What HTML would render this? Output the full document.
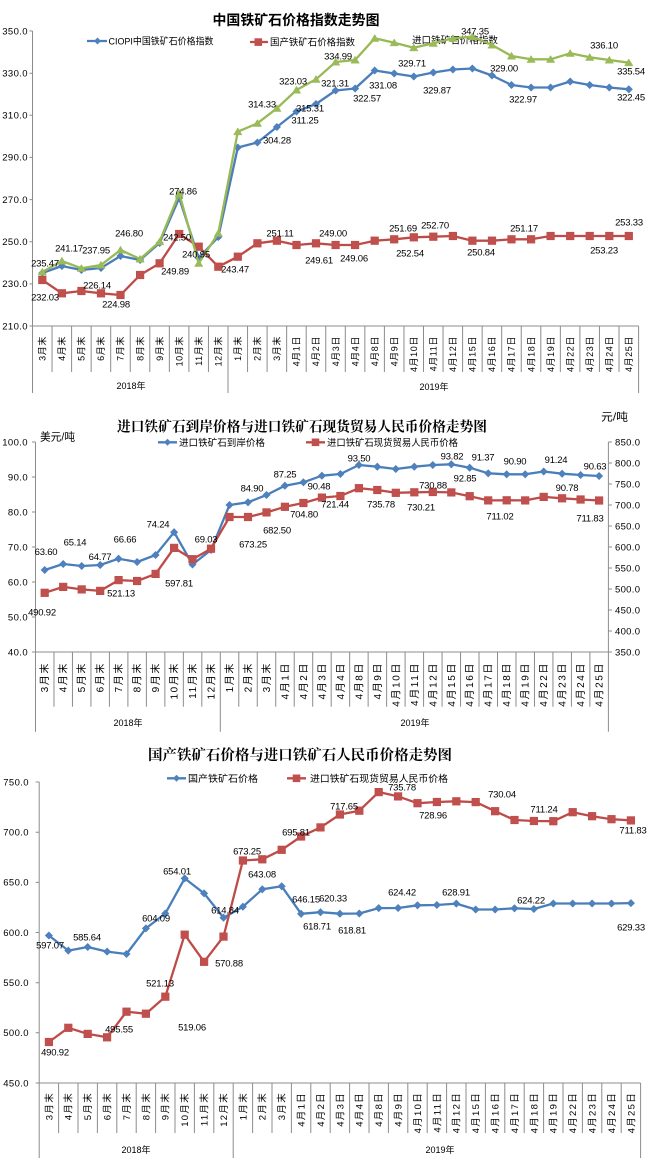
<!DOCTYPE html>
<html><head><meta charset="utf-8"><style>
html,body{margin:0;padding:0;background:#fff;}
svg{display:block;}
text{font-family:"Liberation Sans","Noto Sans CJK SC",sans-serif;fill:#000;}
.ax{stroke:#8c8c8c;stroke-width:1;fill:none;}
.yl{font-size:9.5px;text-anchor:end;letter-spacing:0.4px;}
.yr{font-size:9.5px;text-anchor:start;letter-spacing:0.3px;}
.dl{font-size:9.5px;text-anchor:middle;letter-spacing:-0.2px;}
.x1{font-size:9px;letter-spacing:0.6px;}
.x2{font-size:10px;letter-spacing:1.6px;}
.x3{font-size:9.5px;letter-spacing:1.3px;}
.yr2{font-size:9px;text-anchor:middle;}
.lg{font-size:9.5px;}
.bl{fill:none;stroke:#4A7EBB;stroke-width:2.3;stroke-linejoin:round;}
.rd{fill:none;stroke:#BE4B48;stroke-width:2.3;stroke-linejoin:round;}
.gr{fill:none;stroke:#98B954;stroke-width:2.3;stroke-linejoin:round;}
</style></head><body>
<svg width="650" height="1165" viewBox="0 0 650 1165" xmlns="http://www.w3.org/2000/svg">
<defs>
<marker id="mb" viewBox="-5 -5 10 10" markerWidth="10" markerHeight="10" refX="0" refY="0" markerUnits="userSpaceOnUse"><path d="M0,-3.6L3.6,0L0,3.6L-3.6,0Z" fill="#4F81BD" stroke="#4A7EBB" stroke-width="0.6"/></marker>
<marker id="mr" viewBox="-5 -5 10 10" markerWidth="10" markerHeight="10" refX="0" refY="0" markerUnits="userSpaceOnUse"><rect x="-3.8" y="-3.8" width="7.6" height="7.6" fill="#C0504D" stroke="#BE4B48" stroke-width="0.6"/></marker>
<marker id="mg" viewBox="-5 -5 10 10" markerWidth="10" markerHeight="10" refX="0" refY="0" markerUnits="userSpaceOnUse"><path d="M0,-3.8L4.2,3.2L-4.2,3.2Z" fill="#9BBB59" stroke="#98B954" stroke-width="0.5"/></marker>
</defs>
<rect width="650" height="1165" fill="#fff"/>

<!-- ================= CHART 1 ================= -->
<text x="296" y="25" text-anchor="middle" style="font-family:'Liberation Sans','Noto Sans CJK SC',sans-serif;font-weight:bold;font-size:14px" textLength="167" lengthAdjust="spacingAndGlyphs">中国铁矿石价格指数走势图</text>
<line x1="87" y1="41" x2="107" y2="41" stroke="#4A7EBB" stroke-width="2.3"/>
<path d="M97.5,37.5L101,41L97.5,44.5L94,41Z" fill="#4F81BD"/>
<text class="lg" x="108.5" y="44.5" textLength="105" lengthAdjust="spacingAndGlyphs">CIOPI中国铁矿石价格指数</text>
<line x1="250" y1="42" x2="268" y2="42" stroke="#BE4B48" stroke-width="2.3"/>
<rect x="254.5" y="38.3" width="7.6" height="7.6" fill="#C0504D"/>
<text class="lg" x="270" y="45.5" textLength="85" lengthAdjust="spacingAndGlyphs">国产铁矿石价格指数</text>
<text class="lg" x="412" y="43.5" textLength="86" lengthAdjust="spacingAndGlyphs">进口铁矿石价格指数</text>

<path class="ax" d="M32.5,31V393M29.5,31H32.5M29.5,73.2H32.5M29.5,115.3H32.5M29.5,157.4H32.5M29.5,199.6H32.5M29.5,241.7H32.5M29.5,283.9H32.5M29.5,326H638.6M638.6,326V393M228,326V393
M52.05,326V372M71.6,326V372M91.15,326V372M110.7,326V372M130.25,326V372M149.8,326V372M169.35,326V372M188.9,326V372M208.45,326V372M247.55,326V372M267.1,326V372M286.65,326V372M306.2,326V372M325.75,326V372M345.3,326V372M364.85,326V372M384.4,326V372M403.95,326V372M423.5,326V372M443.05,326V372M462.6,326V372M482.15,326V372M501.7,326V372M521.25,326V372M540.8,326V372M560.35,326V372M579.9,326V372M599.45,326V372M619,326V372"/>
<text class="yl" x="28" y="34.3">350.0</text>
<text class="yl" x="28" y="76.5">330.0</text>
<text class="yl" x="28" y="118.6">310.0</text>
<text class="yl" x="28" y="160.7">290.0</text>
<text class="yl" x="28" y="202.9">270.0</text>
<text class="yl" x="28" y="245">250.0</text>
<text class="yl" x="28" y="287.2">230.0</text>
<text class="yl" x="28" y="329.3">210.0</text>

<g class="x1" text-anchor="end">
<text transform="translate(42.3,336) rotate(-90)" dy="3.2">3月末</text>
<text transform="translate(61.9,336) rotate(-90)" dy="3.2">4月末</text>
<text transform="translate(81.4,336) rotate(-90)" dy="3.2">5月末</text>
<text transform="translate(101,336) rotate(-90)" dy="3.2">6月末</text>
<text transform="translate(120.5,336) rotate(-90)" dy="3.2">7月末</text>
<text transform="translate(140.1,336) rotate(-90)" dy="3.2">8月末</text>
<text transform="translate(159.6,336) rotate(-90)" dy="3.2">9月末</text>
<text transform="translate(179.2,336) rotate(-90)" dy="3.2">10月末</text>
<text transform="translate(198.7,336) rotate(-90)" dy="3.2">11月末</text>
<text transform="translate(218.3,336) rotate(-90)" dy="3.2">12月末</text>
<text transform="translate(237.8,336) rotate(-90)" dy="3.2">1月末</text>
<text transform="translate(257.4,336) rotate(-90)" dy="3.2">2月末</text>
<text transform="translate(276.9,336) rotate(-90)" dy="3.2">3月末</text>
<text transform="translate(296.5,336) rotate(-90)" dy="3.2">4月1日</text>
<text transform="translate(316,336) rotate(-90)" dy="3.2">4月2日</text>
<text transform="translate(335.6,336) rotate(-90)" dy="3.2">4月3日</text>
<text transform="translate(355.1,336) rotate(-90)" dy="3.2">4月4日</text>
<text transform="translate(374.7,336) rotate(-90)" dy="3.2">4月8日</text>
<text transform="translate(394.2,336) rotate(-90)" dy="3.2">4月9日</text>
<text transform="translate(413.8,336) rotate(-90)" dy="3.2">4月10日</text>
<text transform="translate(433.3,336) rotate(-90)" dy="3.2">4月11日</text>
<text transform="translate(452.9,336) rotate(-90)" dy="3.2">4月12日</text>
<text transform="translate(472.4,336) rotate(-90)" dy="3.2">4月15日</text>
<text transform="translate(492,336) rotate(-90)" dy="3.2">4月16日</text>
<text transform="translate(511.5,336) rotate(-90)" dy="3.2">4月17日</text>
<text transform="translate(531.1,336) rotate(-90)" dy="3.2">4月18日</text>
<text transform="translate(550.6,336) rotate(-90)" dy="3.2">4月19日</text>
<text transform="translate(570.2,336) rotate(-90)" dy="3.2">4月22日</text>
<text transform="translate(589.7,336) rotate(-90)" dy="3.2">4月23日</text>
<text transform="translate(609.3,336) rotate(-90)" dy="3.2">4月24日</text>
<text transform="translate(628.8,336) rotate(-90)" dy="3.2">4月25日</text>
</g>
<text class="yr2" x="131" y="389">2018年</text>
<text class="yr2" x="434" y="390">2019年</text>

<polyline class="bl" marker-start="url(#mb)" marker-mid="url(#mb)" marker-end="url(#mb)" points="42.3,273 61.9,266 81.4,270 101,268 120.5,256 140.1,260 159.6,243 179.2,198 198.7,258 218.3,237 237.8,147.5 257.4,142.5 276.9,127 296.5,111.5 316,104 335.6,90.5 355.1,88.5 374.7,70.5 394.2,73.5 413.8,76.5 433.3,72.5 452.9,69.5 472.4,68.5 492,75.5 511.5,85 531.1,87.5 550.6,87.5 570.2,81.5 589.7,85 609.3,87.5 628.8,89.3"/>
<polyline class="rd" marker-start="url(#mr)" marker-mid="url(#mr)" marker-end="url(#mr)" points="42.3,280 61.9,293.3 81.4,291 101,293.3 120.5,295 140.1,275 159.6,263.3 179.2,234 198.7,246.7 218.3,266.7 237.8,256.7 257.4,243.3 276.9,240.7 296.5,245 316,243.3 335.6,245 355.1,245 374.7,240.7 394.2,239.3 413.8,237.3 433.3,236.7 452.9,236 472.4,240.7 492,240.7 511.5,239.3 531.1,239.3 550.6,236 570.2,236 589.7,236 609.3,236 628.8,236"/>
<polyline class="gr" marker-start="url(#mg)" marker-mid="url(#mg)" marker-end="url(#mg)" points="42.3,272 61.9,261 81.4,268.3 101,265 120.5,250 140.1,259 159.6,241.7 179.2,193.3 198.7,263.3 218.3,233.3 237.8,131.7 257.4,123.3 276.9,108.3 296.5,90 316,79.3 335.6,62 355.1,60 374.7,38.3 394.2,42.7 413.8,47.7 433.3,43.3 452.9,38.3 472.4,36.7 492,45 511.5,56 531.1,59.3 550.6,59.3 570.2,53.3 589.7,57.3 609.3,60 628.8,62.7"/>

<g class="dl">
<text x="475" y="34.5">347.35</text>
<text x="338" y="59.5">334.99</text>
<text x="604" y="48.5">336.10</text>
<text x="412" y="66.5">329.71</text>
<text x="504" y="71.5">329.00</text>
<text x="631" y="74.5">335.54</text>
<text x="293" y="84.5">323.03</text>
<text x="335" y="86.5">321.31</text>
<text x="383" y="88.5">331.08</text>
<text x="437" y="93.5">329.87</text>
<text x="367" y="101.5">322.57</text>
<text x="523" y="102.5">322.97</text>
<text x="631" y="100.5">322.45</text>
<text x="262" y="107.5">314.33</text>
<text x="310" y="111.5">315.31</text>
<text x="305" y="123.5">311.25</text>
<text x="277" y="143.5">304.28</text>
<text x="183" y="194.5">274.86</text>
<text x="129" y="236.5">246.80</text>
<text x="177" y="240.5">242.50</text>
<text x="69" y="251.5">241.17</text>
<text x="96" y="253.5">237.95</text>
<text x="45" y="266.5">235.47</text>
<text x="196" y="257.5">240.95</text>
<text x="235" y="272.5">243.47</text>
<text x="175" y="274.5">249.89</text>
<text x="97" y="288.5">226.14</text>
<text x="45" y="300.5">232.03</text>
<text x="116" y="307.5">224.98</text>
<text x="280" y="236.5">251.11</text>
<text x="333" y="236.5">249.00</text>
<text x="403" y="231.5">251.69</text>
<text x="435" y="228.5">252.70</text>
<text x="524" y="231.5">251.17</text>
<text x="629" y="225.5">253.33</text>
<text x="319" y="263.5">249.61</text>
<text x="354" y="261.5">249.06</text>
<text x="410" y="256.5">252.54</text>
<text x="481" y="255.5">250.84</text>
<text x="604" y="253.5">253.23</text>
</g>

<!-- ================= CHART 2 ================= -->
<text x="302" y="431.5" text-anchor="middle" style="font-family:'Liberation Serif','Noto Serif CJK SC',serif;font-weight:bold;font-size:14px" textLength="370" lengthAdjust="spacingAndGlyphs">进口铁矿石到岸价格与进口铁矿石现货贸易人民币价格走势图</text>
<text x="40" y="440.5" style="font-size:11px" textLength="35" lengthAdjust="spacingAndGlyphs">美元/吨</text>
<text x="601" y="420.5" style="font-size:11px" textLength="27" lengthAdjust="spacingAndGlyphs">元/吨</text>
<line x1="158" y1="442.3" x2="177" y2="442.3" stroke="#4A7EBB" stroke-width="2.3"/>
<path d="M167.5,438.8L171,442.3L167.5,445.8L164,442.3Z" fill="#4F81BD"/>
<text class="lg" x="179" y="446" textLength="86" lengthAdjust="spacingAndGlyphs">进口铁矿石到岸价格</text>
<line x1="306" y1="442.3" x2="325" y2="442.3" stroke="#BE4B48" stroke-width="2.3"/>
<rect x="311.7" y="438.5" width="7.6" height="7.6" fill="#C0504D"/>
<text class="lg" x="327" y="446" textLength="131" lengthAdjust="spacingAndGlyphs">进口铁矿石现货贸易人民币价格</text>

<path class="ax" d="M35.5,442V731.7M32,442H35.5M32,477H35.5M32,512H35.5M32,547H35.5M32,582H35.5M32,617H35.5M32,652H608.4M608.4,442V731.7M608.4,442H612M608.4,463H612M608.4,484H612M608.4,505H612M608.4,526H612M608.4,547H612M608.4,568H612M608.4,589H612M608.4,610H612M608.4,631H612M608.4,652H612M220.3,652V731.7
M53.98,652V706.7M72.46,652V706.7M90.94,652V706.7M109.42,652V706.7M127.9,652V706.7M146.38,652V706.7M164.86,652V706.7M183.34,652V706.7M201.82,652V706.7M238.78,652V706.7M257.26,652V706.7M275.74,652V706.7M294.22,652V706.7M312.7,652V706.7M331.18,652V706.7M349.66,652V706.7M368.14,652V706.7M386.62,652V706.7M405.1,652V706.7M423.58,652V706.7M442.06,652V706.7M460.54,652V706.7M479.02,652V706.7M497.5,652V706.7M515.98,652V706.7M534.46,652V706.7M552.94,652V706.7M571.42,652V706.7M589.9,652V706.7"/>
<text class="yl" x="28" y="445.3">100.0</text>
<text class="yl" x="28" y="480.3">90.0</text>
<text class="yl" x="28" y="515.3">80.0</text>
<text class="yl" x="28" y="550.3">70.0</text>
<text class="yl" x="28" y="585.3">60.0</text>
<text class="yl" x="28" y="620.3">50.0</text>
<text class="yl" x="28" y="655.3">40.0</text>
<text class="yr" x="615" y="445.3">850.0</text>
<text class="yr" x="615" y="466.3">800.0</text>
<text class="yr" x="615" y="487.3">750.0</text>
<text class="yr" x="615" y="508.3">700.0</text>
<text class="yr" x="615" y="529.3">650.0</text>
<text class="yr" x="615" y="550.3">600.0</text>
<text class="yr" x="615" y="571.3">550.0</text>
<text class="yr" x="615" y="592.3">500.0</text>
<text class="yr" x="615" y="613.3">450.0</text>
<text class="yr" x="615" y="634.3">400.0</text>
<text class="yr" x="615" y="655.3">350.0</text>

<g class="x2" text-anchor="end">
<text transform="translate(44.7,662) rotate(-90)" dy="3.5">3月末</text>
<text transform="translate(63.2,662) rotate(-90)" dy="3.5">4月末</text>
<text transform="translate(81.7,662) rotate(-90)" dy="3.5">5月末</text>
<text transform="translate(100.2,662) rotate(-90)" dy="3.5">6月末</text>
<text transform="translate(118.6,662) rotate(-90)" dy="3.5">7月末</text>
<text transform="translate(137.1,662) rotate(-90)" dy="3.5">8月末</text>
<text transform="translate(155.6,662) rotate(-90)" dy="3.5">9月末</text>
<text transform="translate(174.1,662) rotate(-90)" dy="3.5">10月末</text>
<text transform="translate(192.5,662) rotate(-90)" dy="3.5">11月末</text>
<text transform="translate(211,662) rotate(-90)" dy="3.5">12月末</text>
<text transform="translate(229.5,662) rotate(-90)" dy="3.5">1月末</text>
<text transform="translate(248,662) rotate(-90)" dy="3.5">2月末</text>
<text transform="translate(266.5,662) rotate(-90)" dy="3.5">3月末</text>
<text transform="translate(284.9,662) rotate(-90)" dy="3.5">4月1日</text>
<text transform="translate(303.4,662) rotate(-90)" dy="3.5">4月2日</text>
<text transform="translate(321.9,662) rotate(-90)" dy="3.5">4月3日</text>
<text transform="translate(340.4,662) rotate(-90)" dy="3.5">4月4日</text>
<text transform="translate(358.9,662) rotate(-90)" dy="3.5">4月8日</text>
<text transform="translate(377.3,662) rotate(-90)" dy="3.5">4月9日</text>
<text transform="translate(395.8,662) rotate(-90)" dy="3.5">4月10日</text>
<text transform="translate(414.3,662) rotate(-90)" dy="3.5">4月11日</text>
<text transform="translate(432.8,662) rotate(-90)" dy="3.5">4月12日</text>
<text transform="translate(451.3,662) rotate(-90)" dy="3.5">4月15日</text>
<text transform="translate(469.7,662) rotate(-90)" dy="3.5">4月16日</text>
<text transform="translate(488.2,662) rotate(-90)" dy="3.5">4月17日</text>
<text transform="translate(506.7,662) rotate(-90)" dy="3.5">4月18日</text>
<text transform="translate(525.2,662) rotate(-90)" dy="3.5">4月19日</text>
<text transform="translate(543.7,662) rotate(-90)" dy="3.5">4月22日</text>
<text transform="translate(562.1,662) rotate(-90)" dy="3.5">4月23日</text>
<text transform="translate(580.6,662) rotate(-90)" dy="3.5">4月24日</text>
<text transform="translate(599.1,662) rotate(-90)" dy="3.5">4月25日</text>
</g>
<text class="yr2" x="128" y="726">2018年</text>
<text class="yr2" x="415" y="726">2019年</text>

<polyline class="bl" marker-start="url(#mb)" marker-mid="url(#mb)" marker-end="url(#mb)" points="44.7,570 63.2,564 81.7,566 100.2,565 118.6,558.7 137.1,562 155.6,555 174.1,532.2 192.5,564.5 211,550 229.5,505 248,502.3 266.5,495 284.9,485.7 303.4,482.3 321.9,475.7 340.4,474 358.9,465 377.3,466.7 395.8,469 414.3,466.7 432.8,465 451.3,464.3 469.7,467.7 488.2,473.3 506.7,474.3 525.2,474.3 543.7,471.5 562.1,473.7 580.6,475 599.1,476"/>
<polyline class="rd" marker-start="url(#mr)" marker-mid="url(#mr)" marker-end="url(#mr)" points="44.7,592.8 63.2,586.9 81.7,589.4 100.2,590.9 118.6,580.1 137.1,581 155.6,573.9 174.1,547.9 192.5,559.2 211,548.7 229.5,517 248,517 266.5,512.4 284.9,506.8 303.4,503 321.9,497.6 340.4,496 358.9,488.2 377.3,490 395.8,492.8 414.3,492.3 432.8,492 451.3,492.4 469.7,496.2 488.2,500.4 506.7,500.3 525.2,500.4 543.7,496.9 562.1,498.3 580.6,499.5 599.1,500.5"/>

<g class="dl">
<text x="46" y="555">63.60</text>
<text x="75" y="545.5">65.14</text>
<text x="100" y="560">64.77</text>
<text x="125" y="542.5">66.66</text>
<text x="158" y="527.5">74.24</text>
<text x="206" y="542.5">69.03</text>
<text x="252" y="491.5">84.90</text>
<text x="285" y="477.5">87.25</text>
<text x="319" y="489.5">90.48</text>
<text x="359" y="461.5">93.50</text>
<text x="452" y="459.5">93.82</text>
<text x="483" y="460.5">91.37</text>
<text x="515" y="464.5">90.90</text>
<text x="556" y="463">91.24</text>
<text x="595" y="469.5">90.63</text>
<text x="465" y="481.5">92.85</text>
<text x="567" y="491">90.78</text>
<text x="433" y="488.5">730.88</text>
<text x="335" y="507.5">721.44</text>
<text x="381" y="507.5">735.78</text>
<text x="421" y="510.5">730.21</text>
<text x="304" y="517.5">704.80</text>
<text x="277" y="533.5">682.50</text>
<text x="253" y="547.5">673.25</text>
<text x="500" y="519.5">711.02</text>
<text x="590" y="521.5">711.83</text>
<text x="179" y="586.5">597.81</text>
<text x="121" y="596.5">521.13</text>
<text x="42" y="615.5">490.92</text>
</g>

<!-- ================= CHART 3 ================= -->
<text x="300" y="760" text-anchor="middle" style="font-family:'Liberation Serif','Noto Serif CJK SC',serif;font-weight:bold;font-size:14.5px" textLength="304" lengthAdjust="spacingAndGlyphs">国产铁矿石价格与进口铁矿石人民币价格走势图</text>
<line x1="167" y1="778.3" x2="186" y2="778.3" stroke="#4A7EBB" stroke-width="2.3"/>
<path d="M176.5,774.8L180,778.3L176.5,781.8L173,778.3Z" fill="#4F81BD"/>
<text class="lg" x="188" y="782" textLength="70" lengthAdjust="spacingAndGlyphs">国产铁矿石价格</text>
<line x1="287" y1="778.3" x2="306" y2="778.3" stroke="#BE4B48" stroke-width="2.3"/>
<rect x="292.7" y="774.5" width="7.6" height="7.6" fill="#C0504D"/>
<text class="lg" x="310" y="782" textLength="138" lengthAdjust="spacingAndGlyphs">进口铁矿石现货贸易人民币价格</text>

<path class="ax" d="M39.2,782V1158M35.7,782H39.2M35.7,832.2H39.2M35.7,882.4H39.2M35.7,932.5H39.2M35.7,982.7H39.2M35.7,1032.8H39.2M35.7,1083H640.6M640.6,1083V1158M233.2,1083V1158
M58.6,1083V1133M78,1083V1133M97.4,1083V1133M116.8,1083V1133M136.2,1083V1133M155.6,1083V1133M175,1083V1133M194.4,1083V1133M213.8,1083V1133M252.6,1083V1133M272,1083V1133M291.4,1083V1133M310.8,1083V1133M330.2,1083V1133M349.6,1083V1133M369,1083V1133M388.4,1083V1133M407.8,1083V1133M427.2,1083V1133M446.6,1083V1133M466,1083V1133M485.4,1083V1133M504.8,1083V1133M524.2,1083V1133M543.6,1083V1133M563,1083V1133M582.4,1083V1133M601.8,1083V1133M621.2,1083V1133"/>
<text class="yl" x="29" y="785.3">750.0</text>
<text class="yl" x="29" y="835.5">700.0</text>
<text class="yl" x="29" y="885.7">650.0</text>
<text class="yl" x="29" y="935.8">600.0</text>
<text class="yl" x="29" y="986">550.0</text>
<text class="yl" x="29" y="1036.1">500.0</text>
<text class="yl" x="29" y="1086.3">450.0</text>

<g class="x3" text-anchor="end">
<text transform="translate(48.9,1092) rotate(-90)" dy="3.4">3月末</text>
<text transform="translate(68.3,1092) rotate(-90)" dy="3.4">4月末</text>
<text transform="translate(87.7,1092) rotate(-90)" dy="3.4">5月末</text>
<text transform="translate(107.1,1092) rotate(-90)" dy="3.4">6月末</text>
<text transform="translate(126.5,1092) rotate(-90)" dy="3.4">7月末</text>
<text transform="translate(145.9,1092) rotate(-90)" dy="3.4">8月末</text>
<text transform="translate(165.3,1092) rotate(-90)" dy="3.4">9月末</text>
<text transform="translate(184.7,1092) rotate(-90)" dy="3.4">10月末</text>
<text transform="translate(204.1,1092) rotate(-90)" dy="3.4">11月末</text>
<text transform="translate(223.5,1092) rotate(-90)" dy="3.4">12月末</text>
<text transform="translate(242.9,1092) rotate(-90)" dy="3.4">1月末</text>
<text transform="translate(262.3,1092) rotate(-90)" dy="3.4">2月末</text>
<text transform="translate(281.7,1092) rotate(-90)" dy="3.4">3月末</text>
<text transform="translate(301.1,1092) rotate(-90)" dy="3.4">4月1日</text>
<text transform="translate(320.5,1092) rotate(-90)" dy="3.4">4月2日</text>
<text transform="translate(339.9,1092) rotate(-90)" dy="3.4">4月3日</text>
<text transform="translate(359.3,1092) rotate(-90)" dy="3.4">4月4日</text>
<text transform="translate(378.7,1092) rotate(-90)" dy="3.4">4月8日</text>
<text transform="translate(398.1,1092) rotate(-90)" dy="3.4">4月9日</text>
<text transform="translate(417.5,1092) rotate(-90)" dy="3.4">4月10日</text>
<text transform="translate(436.9,1092) rotate(-90)" dy="3.4">4月11日</text>
<text transform="translate(456.3,1092) rotate(-90)" dy="3.4">4月12日</text>
<text transform="translate(475.7,1092) rotate(-90)" dy="3.4">4月15日</text>
<text transform="translate(495.1,1092) rotate(-90)" dy="3.4">4月16日</text>
<text transform="translate(514.5,1092) rotate(-90)" dy="3.4">4月17日</text>
<text transform="translate(533.9,1092) rotate(-90)" dy="3.4">4月18日</text>
<text transform="translate(553.3,1092) rotate(-90)" dy="3.4">4月19日</text>
<text transform="translate(572.7,1092) rotate(-90)" dy="3.4">4月22日</text>
<text transform="translate(592.1,1092) rotate(-90)" dy="3.4">4月23日</text>
<text transform="translate(611.5,1092) rotate(-90)" dy="3.4">4月24日</text>
<text transform="translate(630.9,1092) rotate(-90)" dy="3.4">4月25日</text>
</g>
<text class="yr2" x="136" y="1153">2018年</text>
<text class="yr2" x="440" y="1153">2019年</text>

<polyline class="bl" marker-start="url(#mb)" marker-mid="url(#mb)" marker-end="url(#mb)" points="48.9,935.5 68.3,950.6 87.7,947 107.1,951.6 126.5,954 145.9,928.4 165.3,913.5 184.7,878.4 204.1,893.4 223.5,917.7 242.9,906.7 262.3,889.3 281.7,886.3 301.1,913.8 320.5,912.2 339.9,913.7 359.3,913.5 378.7,908.1 398.1,908 417.5,905.3 436.9,905 456.3,903.6 475.7,909.5 495.1,909.5 514.5,908.3 533.9,909 553.3,903.5 572.7,903.5 592.1,903.5 611.5,903.5 630.9,903.1"/>
<polyline class="rd" marker-start="url(#mr)" marker-mid="url(#mr)" marker-end="url(#mr)" points="48.9,1042 68.3,1027.8 87.7,1033.9 107.1,1037.3 126.5,1011.7 145.9,1013.7 165.3,996.7 184.7,934.7 204.1,961.8 223.5,936.6 242.9,860.5 262.3,859.3 281.7,849.8 301.1,836.5 320.5,827.4 339.9,814.5 359.3,810.7 378.7,792.1 398.1,796.4 417.5,803.2 436.9,802 456.3,801.3 475.7,802.1 495.1,811.2 514.5,820 533.9,821 553.3,821.2 572.7,812.2 592.1,816.2 611.5,819.2 630.9,820.4"/>

<g class="dl">
<text x="402" y="790.5">735.78</text>
<text x="502" y="797.5">730.04</text>
<text x="344" y="809.5">717.65</text>
<text x="544" y="812.5">711.24</text>
<text x="433" y="818.5">728.96</text>
<text x="633" y="833.5">711.83</text>
<text x="296" y="835.5">695.81</text>
<text x="247" y="854.5">673.25</text>
<text x="177" y="874.5">654.01</text>
<text x="262" y="877.5">643.08</text>
<text x="306" y="902.5">646.15</text>
<text x="333" y="901.5">620.33</text>
<text x="402" y="895.5">624.42</text>
<text x="456" y="895.5">628.91</text>
<text x="531" y="903.5">624.22</text>
<text x="225" y="913.5">614.84</text>
<text x="156" y="921.5">604.09</text>
<text x="317" y="929.5">618.71</text>
<text x="352" y="933.5">618.81</text>
<text x="631" y="930.5">629.33</text>
<text x="50" y="948.5">597.07</text>
<text x="87" y="940.5">585.64</text>
<text x="229" y="966.5">570.88</text>
<text x="160" y="986.5">521.13</text>
<text x="119" y="1032.5">495.55</text>
<text x="192" y="1030.5">519.06</text>
<text x="55" y="1055.5">490.92</text>
</g>
</svg>
</body></html>
